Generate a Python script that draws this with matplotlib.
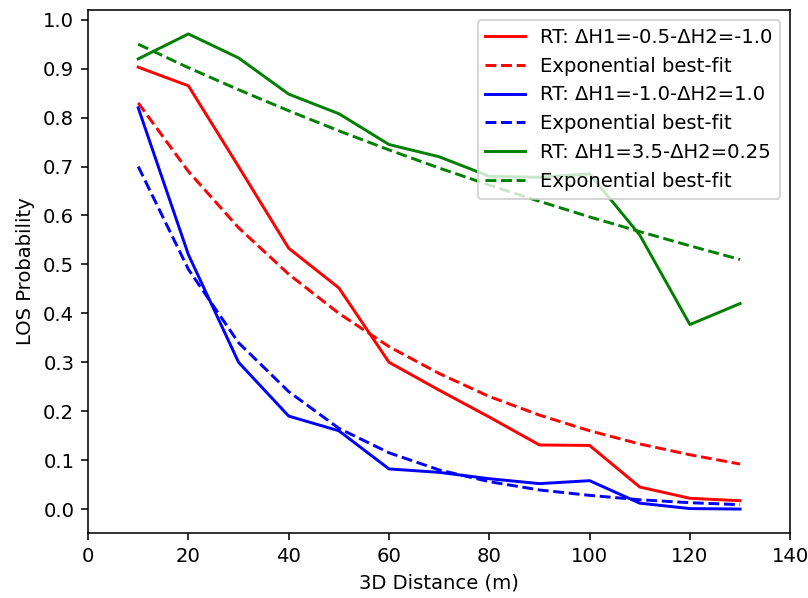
import matplotlib
matplotlib.use("Agg")
import matplotlib.pyplot as plt

distance = [10, 20, 30, 40, 50, 60, 70, 80, 90, 100, 110, 120, 130]

rt_a = [0.903, 0.865, 0.700, 0.533, 0.452, 0.300, 0.243, 0.188, 0.131, 0.130, 0.045, 0.022, 0.017]
fit_a = [0.830, 0.690, 0.575, 0.480, 0.400, 0.332, 0.277, 0.230, 0.192, 0.160, 0.133, 0.111, 0.092]

rt_b = [0.820, 0.520, 0.300, 0.190, 0.160, 0.082, 0.075, 0.062, 0.052, 0.058, 0.012, 0.001, 0.000]
fit_b = [0.700, 0.490, 0.340, 0.240, 0.165, 0.115, 0.080, 0.056, 0.039, 0.028, 0.019, 0.013, 0.009]

rt_c = [0.920, 0.971, 0.922, 0.848, 0.808, 0.745, 0.720, 0.680, 0.678, 0.685, 0.560, 0.377, 0.420]
fit_c = [0.950, 0.902, 0.857, 0.814, 0.773, 0.734, 0.697, 0.662, 0.629, 0.597, 0.567, 0.538, 0.510]

labels = [
    "RT: ΔH1=-0.5-ΔH2=-1.0",
    "RT: ΔH1=-1.0-ΔH2=1.0",
    "RT: ΔH1=3.5-ΔH2=0.25",
]

DPI = 141
fig, ax = plt.subplots(figsize=(808 / DPI, 598 / DPI), dpi=DPI)
fig.subplots_adjust(left=0.109, right=0.978, top=0.983, bottom=0.109)

for rt, fit, color, label in zip([rt_a, rt_b, rt_c], [fit_a, fit_b, fit_c], ["red", "blue", "green"], labels):
    ax.plot(distance, rt, color=color, linestyle="-", label=label)
    ax.plot(distance, fit, color=color, linestyle="--", label="Exponential best-fit")

ax.set_xlim(0, 140)
ax.set_yticks([0.0, 0.1, 0.2, 0.3, 0.4, 0.5, 0.6, 0.7, 0.8, 0.9, 1.0])
ax.set_xlabel("3D Distance (m)")
ax.set_ylabel("LOS Probability")
ax.legend(loc="upper right")

fig.savefig("out.png", dpi=DPI)
